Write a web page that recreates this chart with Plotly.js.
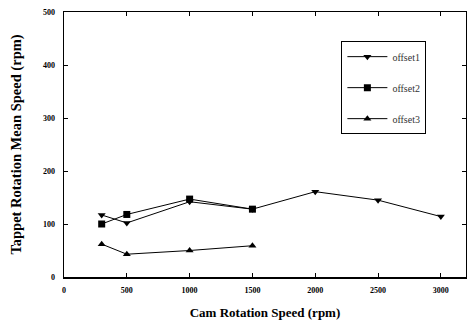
<!DOCTYPE html>
<html><head><meta charset="utf-8">
<script src="https://cdn.plot.ly/plotly-3.0.1.min.js"></script>
<style>html,body{margin:0;padding:0;background:#fff}#c{width:467px;height:321px}</style>
</head><body><div id="c"></div>
<script>
var x1 = [300, 500, 1000, 1500, 2000, 2500, 3000];
var offset1 = [117, 102, 142, 128, 161, 145, 114];
var x2 = [300, 500, 1000, 1500];
var offset2 = [100, 118, 147, 128];
var x3 = [300, 500, 1000, 1500];
var offset3 = [62, 43, 50, 59];
var xTicks = [0, 500, 1000, 1500, 2000, 2500, 3000];
var yTicks = [0, 100, 200, 300, 400, 500];

function tr(x, y, name, sym, g) {
  return {x: x, y: y, name: name, type: 'scatter', mode: 'lines+markers',
    legendgroup: g,
    line: {color: '#000', width: 1},
    marker: {symbol: sym, size: 7, color: '#000'}};
}
var data = [
  tr(x1, offset1, 'offset1', 'triangle-down', 'a'),
  tr(x2, offset2, 'offset2', 'square', 'b'),
  tr(x3, offset3, 'offset3', 'triangle-up', 'c')
];
var tickFont = {family: 'Liberation Serif', size: 8, color: '#000', weight: 'bold'};
var layout = {
  width: 467, height: 321,
  margin: {l: 64, r: 1, t: 12, b: 44},
  paper_bgcolor: '#fff', plot_bgcolor: '#fff',
  showlegend: true,
  legend: {x: 0.69, y: 0.89, xanchor: 'left', yanchor: 'top',
    bordercolor: '#000', borderwidth: 1, bgcolor: '#fff',
    font: {family: 'Liberation Serif', size: 10, color: '#333'},
    traceorder: 'grouped', tracegroupgap: 12, itemwidth: 40},
  xaxis: {range: [0, 3200], tickvals: xTicks, ticktext: xTicks.map(String),
    ticks: 'inside', ticklen: 4, tickcolor: '#000', mirror: 'ticks',
    showline: true, linecolor: '#000', linewidth: 1.5, showgrid: false, zeroline: false,
    tickfont: tickFont, ticklabelstandoff: 5,
    title: {text: 'Cam Rotation Speed (rpm)', standoff: 14,
      font: {family: 'Liberation Serif', size: 13, color: '#000', weight: 'bold'}}},
  yaxis: {range: [0, 500], tickvals: yTicks, ticktext: yTicks.map(String),
    ticks: 'inside', ticklen: 4, tickcolor: '#000', mirror: 'ticks',
    showline: true, linecolor: '#000', linewidth: 1.5, showgrid: false, zeroline: false,
    tickfont: tickFont, ticklabelstandoff: 6,
    title: {text: 'Tappet Rotation Mean Speed (rpm)', standoff: 18,
      font: {family: 'Liberation Serif', size: 14.5, color: '#000', weight: 'bold'}}}
};
Plotly.newPlot('c', data, layout, {displayModeBar: false, staticPlot: true});
</script></body></html>
